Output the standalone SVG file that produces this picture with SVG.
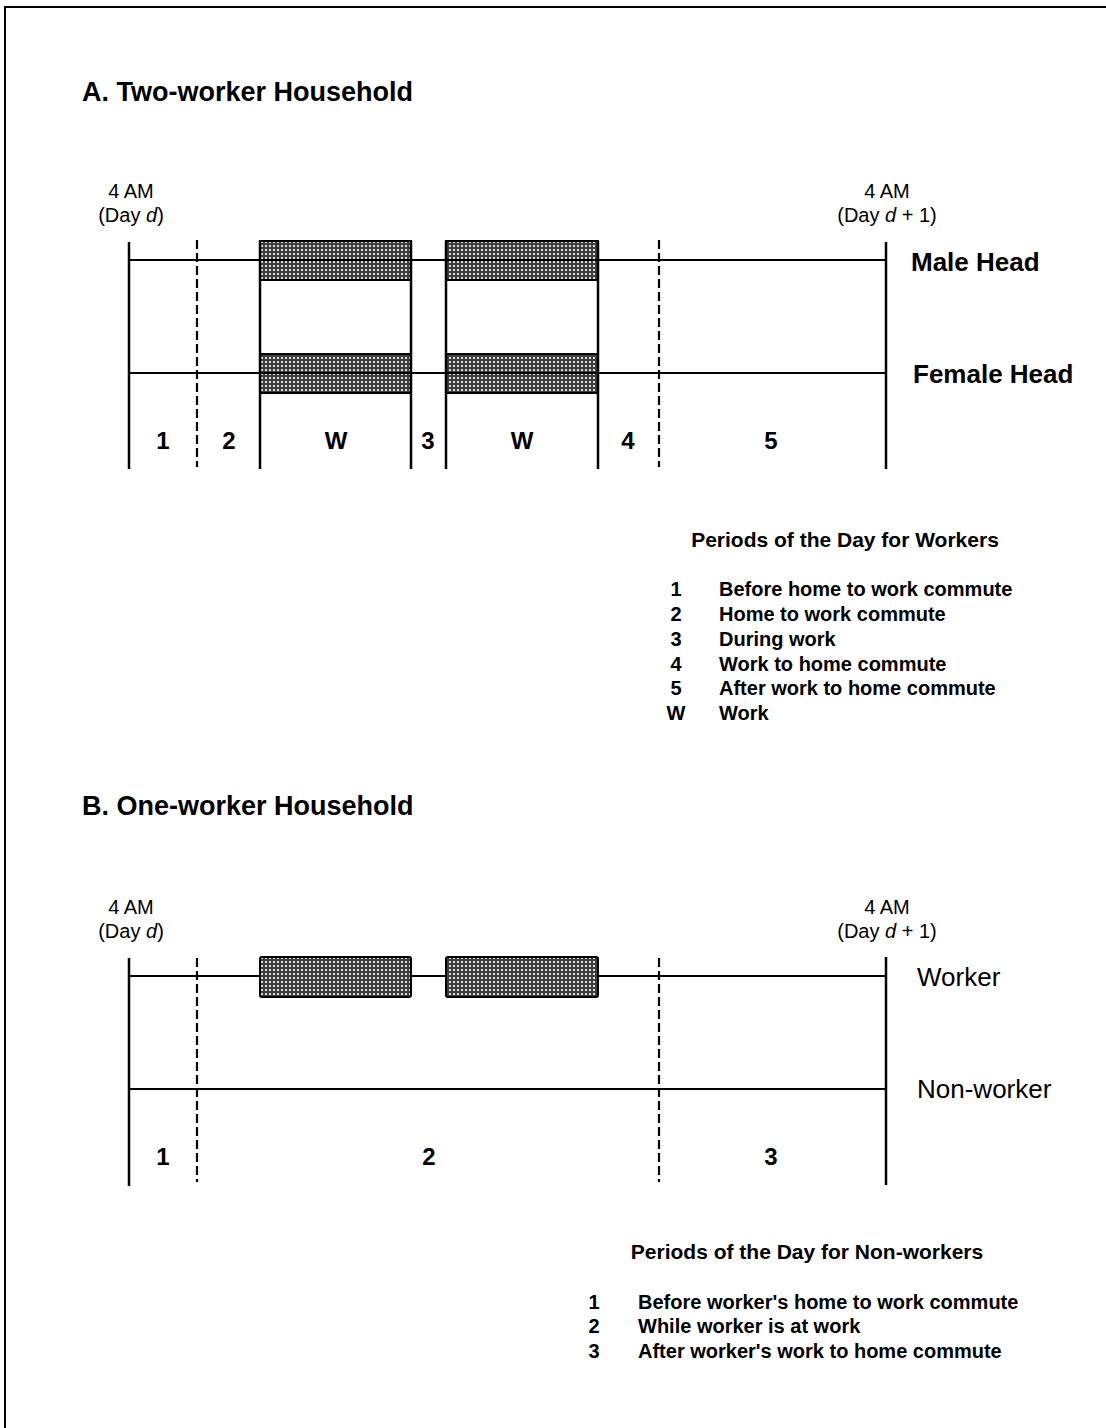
<svg xmlns="http://www.w3.org/2000/svg" width="1106" height="1428" viewBox="0 0 1106 1428">
<style>
  text { font-family: "Liberation Sans", Arial, sans-serif; fill: #000; }
  .title { font-size: 27px; font-weight: bold; }
  .time { font-size: 20px; }
  .row { font-size: 26px; font-weight: bold; }
  .rowb { font-size: 26px; }
  .num { font-size: 24px; font-weight: bold; text-anchor: middle; }
  .lt { font-size: 21px; font-weight: bold; text-anchor: middle; }
  .li { font-size: 20px; font-weight: bold; }
  .mid { text-anchor: middle; }
  .solid { stroke: #000; stroke-width: 2.5; fill: none; }
  .hline { stroke: #000; stroke-width: 2; fill: none; }
  .dash { stroke: #000; stroke-width: 2.2; stroke-dasharray: 9 4; fill: none; }
  .bar { fill: url(#hatch); stroke: #000; stroke-width: 2; }
</style>
<defs>
  <pattern id="hatch" width="4" height="4" patternUnits="userSpaceOnUse">
    <rect width="4" height="4" fill="#3f3f3f"/>
    <rect x="1" y="1" width="2" height="2" fill="#dcdcdc"/>
  </pattern>
</defs>
<rect width="1106" height="1428" fill="#fff"/>
<g id="frame">
  <line x1="5" y1="7" x2="1106" y2="7" class="hline"/>
  <line x1="5" y1="6" x2="5" y2="1428" class="hline"/>
</g>

<!-- Panel A -->
<g id="panelA-title"><text x="82" y="101" class="title">A. Two-worker Household</text></g>
<g id="panelA-start">
  <text x="131" y="198" class="time mid">4 AM</text>
  <text x="131" y="222" class="time mid">(Day <tspan font-style="italic">d</tspan>)</text>
</g>
<g id="panelA-end">
  <text x="887" y="198" class="time mid">4 AM</text>
  <text x="887" y="222" class="time mid">(Day <tspan font-style="italic">d</tspan> + 1)</text>
</g>
<g id="panelA-bars">
  <rect x="260" y="241" width="151" height="39" class="bar"/>
  <rect x="446" y="241" width="152" height="39" class="bar"/>
  <rect x="260" y="354" width="151" height="39" class="bar"/>
  <rect x="446" y="354" width="152" height="39" class="bar"/>
</g>
<g id="panelA-lines">
  <line x1="129" y1="260" x2="886" y2="260" class="hline"/>
  <line x1="129" y1="373" x2="886" y2="373" class="hline"/>
  <line x1="129" y1="242" x2="129" y2="469" class="solid"/>
  <line x1="886" y1="242" x2="886" y2="469" class="solid"/>
  <line x1="260" y1="241" x2="260" y2="469" class="solid"/>
  <line x1="411" y1="241" x2="411" y2="469" class="solid"/>
  <line x1="446" y1="241" x2="446" y2="469" class="solid"/>
  <line x1="598" y1="241" x2="598" y2="469" class="solid"/>
  <line x1="197" y1="240" x2="197" y2="467" class="dash"/>
  <line x1="659" y1="240" x2="659" y2="467" class="dash"/>
</g>
<g id="panelA-rows">
  <text x="911" y="271" class="row">Male Head</text>
  <text x="913" y="383" class="row">Female Head</text>
</g>
<g id="panelA-periods">
  <text x="163" y="449" class="num">1</text>
  <text x="229" y="449" class="num">2</text>
  <text x="336" y="449" class="num">W</text>
  <text x="428" y="449" class="num">3</text>
  <text x="522" y="449" class="num">W</text>
  <text x="628" y="449" class="num">4</text>
  <text x="771" y="449" class="num">5</text>
</g>
<g id="panelA-legend">
  <text x="845" y="547" class="lt">Periods of the Day for Workers</text>
  <text x="676" y="596" class="li mid">1</text><text x="719" y="596" class="li">Before home to work commute</text>
  <text x="676" y="621" class="li mid">2</text><text x="719" y="621" class="li">Home to work commute</text>
  <text x="676" y="646" class="li mid">3</text><text x="719" y="646" class="li">During work</text>
  <text x="676" y="671" class="li mid">4</text><text x="719" y="671" class="li">Work to home commute</text>
  <text x="676" y="695" class="li mid">5</text><text x="719" y="695" class="li">After work to home commute</text>
  <text x="676" y="720" class="li mid">W</text><text x="719" y="720" class="li">Work</text>
</g>

<!-- Panel B -->
<g id="panelB-title"><text x="82" y="815" class="title">B. One-worker Household</text></g>
<g id="panelB-start">
  <text x="131" y="914" class="time mid">4 AM</text>
  <text x="131" y="938" class="time mid">(Day <tspan font-style="italic">d</tspan>)</text>
</g>
<g id="panelB-end">
  <text x="887" y="914" class="time mid">4 AM</text>
  <text x="887" y="938" class="time mid">(Day <tspan font-style="italic">d</tspan> + 1)</text>
</g>
<g id="panelB-lines">
  <line x1="129" y1="976" x2="886" y2="976" class="hline"/>
  <line x1="129" y1="1089" x2="886" y2="1089" class="hline"/>
  <line x1="129" y1="958" x2="129" y2="1186" class="solid"/>
  <line x1="886" y1="957" x2="886" y2="1185" class="solid"/>
  <line x1="197" y1="958" x2="197" y2="1182" class="dash"/>
  <line x1="659" y1="958" x2="659" y2="1182" class="dash"/>
</g>
<g id="panelB-bars">
  <rect x="260" y="957" width="151" height="40" rx="2" class="bar"/>
  <rect x="446" y="957" width="152" height="40" rx="2" class="bar"/>
</g>
<g id="panelB-rows">
  <text x="917" y="986" class="rowb">Worker</text>
  <text x="917" y="1098" class="rowb">Non-worker</text>
</g>
<g id="panelB-periods">
  <text x="163" y="1165" class="num">1</text>
  <text x="429" y="1165" class="num">2</text>
  <text x="771" y="1165" class="num">3</text>
</g>
<g id="panelB-legend">
  <text x="807" y="1259" class="lt">Periods of the Day for Non-workers</text>
  <text x="594" y="1309" class="li mid">1</text><text x="638" y="1309" class="li">Before worker's home to work commute</text>
  <text x="594" y="1333" class="li mid">2</text><text x="638" y="1333" class="li">While worker is at work</text>
  <text x="594" y="1358" class="li mid">3</text><text x="638" y="1358" class="li">After worker's work to home commute</text>
</g>
</svg>
